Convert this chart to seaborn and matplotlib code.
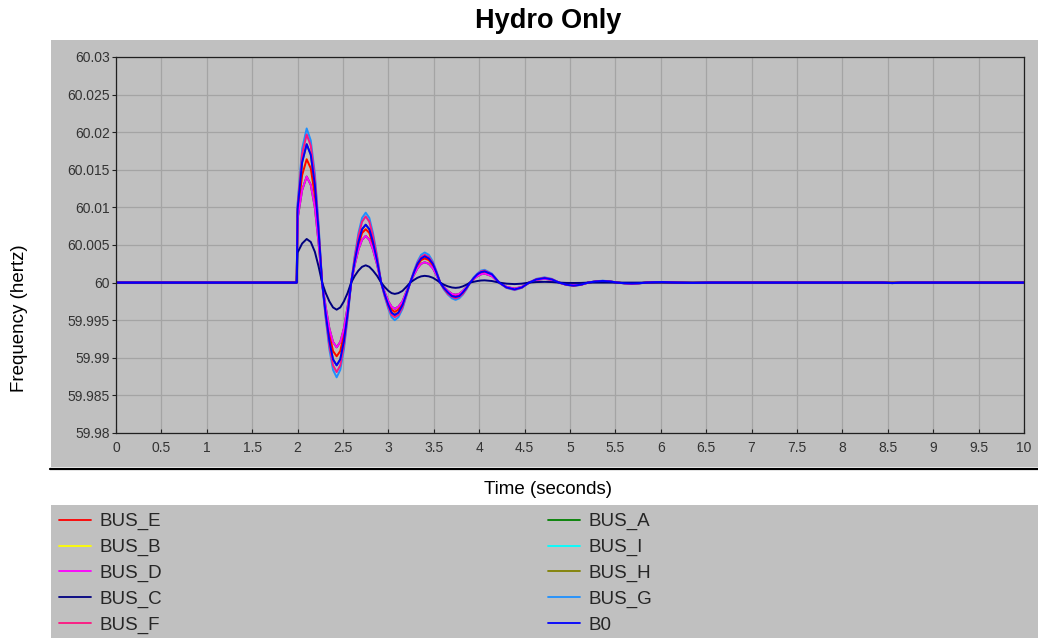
import matplotlib
matplotlib.use("Agg")
import matplotlib.pyplot as plt
from matplotlib.patches import Rectangle
from matplotlib.lines import Line2D
import seaborn as sns
import pandas as pd

# ---------------- data ----------------
time_s = [0.0, 1.99, 2.0, 2.05, 2.10,
          2.145, 2.19, 2.23, 2.27, 2.31, 2.35, 2.39, 2.43,
          2.47, 2.51, 2.55, 2.59, 2.63, 2.67, 2.71, 2.75,
          2.79, 2.83, 2.875, 2.92, 2.96, 3.0, 3.035, 3.07,
          3.11, 3.155, 3.195, 3.24, 3.28, 3.32, 3.36, 3.40,
          3.445, 3.49, 3.53, 3.57, 3.61, 3.655, 3.70, 3.74,
          3.78, 3.82, 3.86, 3.90, 3.94, 3.98, 4.02, 4.06,
          4.14, 4.22, 4.30, 4.39, 4.47, 4.55, 4.63, 4.72,
          4.80, 4.88, 4.96, 5.04, 5.12, 5.20, 5.28, 5.36,
          5.44, 5.52, 5.60, 5.68, 5.76, 5.84, 5.93, 6.02,
          6.18, 6.35, 6.55, 8.45, 8.55, 8.65, 10.0]

bus_g = [60.0, 60.0, 60.0105, 60.0178, 60.0205,
         60.0189, 60.0145, 60.0079, 60.0, 59.9952, 59.9911, 59.9884, 59.9874,
         59.9884, 59.9911, 59.9952, 60.0, 60.0036, 60.0066, 60.0086, 60.0093,
         60.0086, 60.0066, 60.0036, 60.0, 59.9981, 59.9965, 59.9954, 59.9950,
         59.9954, 59.9965, 59.9981, 60.0, 60.0015, 60.0028, 60.0037, 60.0040,
         60.0037, 60.0028, 60.0015, 60.0, 59.9991, 59.9984, 59.9979, 59.9977,
         59.9979, 59.9984, 59.9991, 60.0, 60.0007, 60.0012, 60.0016, 60.0017,
         60.0012, 60.0, 59.9993, 59.9990, 59.9993, 60.0, 60.0005, 60.0007,
         60.0005, 60.0, 59.9997, 59.99955, 59.9997, 60.0, 60.00018, 60.00025,
         60.00018, 60.0, 59.9999, 59.99985, 59.9999, 60.0, 60.00006, 60.00008,
         60.0, 59.99996, 60.0, 60.0, 59.99995, 60.0, 60.0]

bus_f = [60.0, 60.0, 60.0102, 60.0171, 60.0197,
         60.0182, 60.0139, 60.0075, 60.0, 59.9954, 59.9916, 59.9890, 59.9881,
         59.9890, 59.9916, 59.9954, 60.0, 60.0034, 60.0062, 60.0081, 60.0088,
         60.0081, 60.0062, 60.0034, 60.0, 59.9982, 59.9967, 59.9957, 59.9954,
         59.9957, 59.9967, 59.9982, 60.0, 60.0014, 60.0026, 60.0034, 60.0037,
         60.0034, 60.0026, 60.0014, 60.0, 59.9992, 59.9985, 59.9981, 59.9979,
         59.9981, 59.9985, 59.9992, 60.0, 60.0006, 60.0011, 60.0015, 60.0016,
         60.0011, 60.0, 59.99933, 59.99905, 59.99933, 60.0, 60.00046, 60.00065,
         60.00046, 60.0, 59.9997, 59.99958, 59.9997, 60.0, 60.00016, 60.00023,
         60.00016, 60.0, 59.9999, 59.99986, 59.9999, 60.0, 60.00005, 60.00007,
         60.0, 59.99996, 60.0, 60.0, 59.99994, 60.0, 60.0]

bus_b0 = [60.0, 60.0, 60.0098, 60.0160, 60.0184,
          60.0170, 60.0130, 60.0070, 60.0, 59.9958, 59.9922, 59.9898, 59.9890,
          59.9898, 59.9922, 59.9958, 60.0, 60.0029, 60.0054, 60.0071, 60.0077,
          60.0071, 60.0054, 60.0029, 60.0, 59.9984, 59.9970, 59.9960, 59.9957,
          59.9960, 59.9970, 59.9984, 60.0, 60.0013, 60.0025, 60.0032, 60.0035,
          60.0032, 60.0025, 60.0013, 60.0, 59.9993, 59.9987, 59.9982, 59.9981,
          59.9982, 59.9987, 59.9993, 60.0, 60.0006, 60.0011, 60.0014, 60.0015,
          60.0011, 60.0, 59.99936, 59.9991, 59.99936, 60.0, 60.00042, 60.0006,
          60.00042, 60.0, 59.99972, 59.9996, 59.99972, 60.0, 60.00016, 60.00022,
          60.00016, 60.0, 59.99991, 59.99987, 59.99991, 60.0, 60.00005, 60.00007,
          60.0, 59.99996, 60.0, 60.0, 59.99993, 60.0, 60.0]

bus_e = [60.0, 60.0, 60.0093, 60.0143, 60.0164,
         60.0152, 60.0116, 60.0063, 60.0, 59.9962, 59.9931, 59.9909, 59.9902,
         59.9909, 59.9931, 59.9962, 60.0, 60.0027, 60.0050, 60.0066, 60.0071,
         60.0066, 60.0050, 60.0027, 60.0, 59.9985, 59.9972, 59.9964, 59.9961,
         59.9964, 59.9972, 59.9985, 60.0, 60.0012, 60.0023, 60.0030, 60.0032,
         60.0030, 60.0023, 60.0012, 60.0, 59.9993, 59.9987, 59.9983, 59.9982,
         59.9983, 59.9987, 59.9993, 60.0, 60.0005, 60.0010, 60.0013, 60.0014,
         60.0010, 60.0, 59.9994, 59.99915, 59.9994, 60.0, 60.00039, 60.00055,
         60.00039, 60.0, 59.99973, 59.99962, 59.99973, 60.0, 60.00014, 60.0002,
         60.00014, 60.0, 59.99992, 59.99988, 59.99992, 60.0, 60.00004, 60.00006,
         60.0, 59.99997, 60.0, 60.0, 60.0, 60.0, 60.0]

bus_d = [60.0, 60.0, 60.0085, 60.0123, 60.0141,
         60.0130, 60.0100, 60.0054, 60.0, 59.9967, 59.9939, 59.9921, 59.9914,
         59.9921, 59.9939, 59.9967, 60.0, 60.0024, 60.0044, 60.0057, 60.0062,
         60.0057, 60.0044, 60.0024, 60.0, 59.9987, 59.9975, 59.9968, 59.9965,
         59.9968, 59.9975, 59.9987, 60.0, 60.0010, 60.0019, 60.0025, 60.0027,
         60.0025, 60.0019, 60.0010, 60.0, 59.9994, 59.9989, 59.9985, 59.9984,
         59.9985, 59.9989, 59.9994, 60.0, 60.0005, 60.00085, 60.0011, 60.0012,
         60.00085, 60.0, 59.99943, 59.9992, 59.99943, 60.0, 60.00035, 60.0005,
         60.00035, 60.0, 59.99975, 59.99965, 59.99975, 60.0, 60.00013, 60.00018,
         60.00013, 60.0, 59.99992, 59.99989, 59.99992, 60.0, 60.00004, 60.00005,
         60.0, 59.99997, 60.0, 60.0, 59.99994, 60.0, 60.0]

bus_c = [60.0, 60.0, 60.0040, 60.0052, 60.0058,
         60.0054, 60.0041, 60.0022, 60.0, 59.9986, 59.9975, 59.9967, 59.9964,
         59.9967, 59.9975, 59.9986, 60.0, 60.0009, 60.0016, 60.0021, 60.0023,
         60.0021, 60.0016, 60.0009, 60.0, 59.9994, 59.9989, 59.9986, 59.9985,
         59.9986, 59.9989, 59.9994, 60.0, 60.00034, 60.00064, 60.00083, 60.0009,
         60.00083, 60.00064, 60.00034, 60.0, 59.99973, 59.9995, 59.99935, 59.9993,
         59.99935, 59.9995, 59.99973, 60.0, 60.00011, 60.00021, 60.00028, 60.0003,
         60.00021, 60.0, 59.99986, 59.9998, 59.99986, 60.0, 60.00007, 60.0001,
         60.00007, 60.0, 59.99996, 59.99995, 59.99996, 60.0, 60.0, 60.0,
         60.0, 60.0, 60.0, 60.0, 60.0, 60.0, 60.0, 60.0,
         60.0, 60.0, 60.0, 60.0, 60.0, 60.0, 60.0]

# buses hidden underneath the others in the reference
bus_b = bus_e
bus_a = bus_d
bus_i = bus_f
bus_h = bus_b0

series = {
    "BUS_E": bus_e, "BUS_B": bus_b, "BUS_D": bus_d, "BUS_C": bus_c,
    "BUS_F": bus_f, "BUS_A": bus_a, "BUS_I": bus_i, "BUS_H": bus_h,
    "BUS_G": bus_g, "B0": bus_b0,
}
legend_col1 = ["BUS_E", "BUS_B", "BUS_D", "BUS_C", "BUS_F"]
legend_col2 = ["BUS_A", "BUS_I", "BUS_H", "BUS_G", "B0"]
draw_order = ["BUS_B", "BUS_A", "BUS_I", "BUS_H",
              "BUS_G", "BUS_F", "BUS_E", "BUS_D", "BUS_C", "B0"]
colors = {
    "BUS_E": "#FF0000", "BUS_B": "#FFFF00", "BUS_D": "#FF00FF",
    "BUS_C": "#000080", "BUS_F": "#FF1480", "BUS_A": "#008000",
    "BUS_I": "#00FFFF", "BUS_H": "#808000", "BUS_G": "#1E90FF",
    "B0": "#0000FF",
}

x_ticks = [0, 0.5, 1, 1.5, 2, 2.5, 3, 3.5, 4, 4.5, 5, 5.5, 6, 6.5, 7,
           7.5, 8, 8.5, 9, 9.5, 10]
x_tick_labels = ["0", "0.5", "1", "1.5", "2", "2.5", "3", "3.5", "4", "4.5",
                 "5", "5.5", "6", "6.5", "7", "7.5", "8", "8.5", "9", "9.5", "10"]
y_ticks = [59.98, 59.985, 59.99, 59.995, 60.0, 60.005, 60.01, 60.015,
           60.02, 60.025, 60.03]
y_tick_labels = ["59.98", "59.985", "59.99", "59.995", "60", "60.005",
                 "60.01", "60.015", "60.02", "60.025", "60.03"]

# ---------------- figure ----------------
sns.set_theme(style="white")
plt.rcParams["font.family"] = ["Liberation Sans", "DejaVu Sans"]

W, H = 1038, 638
fig = plt.figure(figsize=(W / 100, H / 100), dpi=100)
fig.patch.set_facecolor("white")

GRAY = "#C0C0C0"
# upper gray panel and lower legend panel
fig.add_artist(Rectangle((51 / W, 1 - 467 / H), 1 - 51 / W, (467 - 40) / H,
                         transform=fig.transFigure, facecolor=GRAY,
                         edgecolor="none", zorder=0))
fig.add_artist(Rectangle((51 / W, 0), 1 - 51 / W, 1 - 505 / H,
                         transform=fig.transFigure, facecolor=GRAY,
                         edgecolor="none", zorder=0))
fig.add_artist(Line2D([50 / W, 1.0], [1 - 469 / H, 1 - 469 / H],
                      transform=fig.transFigure, color="black", lw=1.6))

ax = fig.add_axes([116 / W, 1 - 433 / H, (1024 - 116) / W, (433 - 57) / H])
ax.set_facecolor(GRAY)

rows = []
for name, vals in series.items():
    for t, v in zip(time_s, vals):
        rows.append({"t": t, "f": v, "bus": name})
df = pd.DataFrame(rows)

sns.lineplot(data=df, x="t", y="f", hue="bus", hue_order=draw_order,
             palette=colors, estimator=None, sort=False, lw=1.4, ax=ax,
             legend=False)

ax.set_xlim(0, 10)
ax.set_ylim(59.98, 60.03)
ax.set_xticks(x_ticks)
ax.set_xticklabels(x_tick_labels)
ax.set_yticks(y_ticks)
ax.set_yticklabels(y_tick_labels)
ax.set_xlabel("")
ax.set_ylabel("")
ax.grid(True, color="#A4A4A4", lw=0.9)
ax.set_axisbelow(True)
for s in ax.spines.values():
    s.set_color("#202020")
    s.set_linewidth(0.9)
ax.tick_params(axis="x", direction="in", length=3, width=0.8, pad=6,
               labelsize=10, labelcolor="#333333", color="#202020", bottom=True)
ax.tick_params(axis="y", direction="out", length=3, width=0.8, pad=1.5,
               labelsize=10, labelcolor="#333333", color="#202020", left=True)

fig.text(548 / W, 1 - 28 / H, "Hydro Only", ha="center", va="baseline",
         fontsize=19.5, fontweight="bold", color="black")
fig.text(548 / W, 1 - 494 / H, "Time (seconds)", ha="center", va="baseline",
         fontsize=13.5, color="black")
fig.text(20 / W, 1 - 318 / H, "Frequency (hertz)", ha="center", va="center",
         rotation=90, fontsize=13.5, color="black")


def make_handles(names):
    return [Line2D([], [], color=colors[n], lw=1.3) for n in names]


common = dict(loc="upper left", frameon=False, fontsize=13.5,
              handlelength=1.7, handletextpad=0.45, labelspacing=0.46,
              borderpad=0, borderaxespad=0)
leg1 = fig.legend(make_handles(legend_col1), legend_col1,
                  bbox_to_anchor=(59 / W, 1 - 513 / H), **common)
leg2 = fig.legend(make_handles(legend_col2), legend_col2,
                  bbox_to_anchor=(548 / W, 1 - 513 / H), **common)

fig.savefig("out.png", dpi=100, facecolor="white")
